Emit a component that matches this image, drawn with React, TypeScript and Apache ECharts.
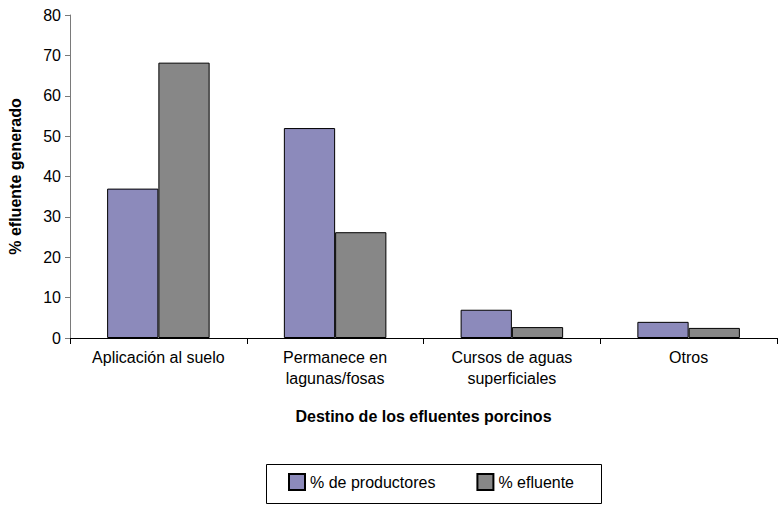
import React, { useEffect, useRef } from "react";
import * as echarts from "echarts";

const categories = [
  "Aplicación al suelo",
  "Permanece en\nlagunas/fosas",
  "Cursos de aguas\nsuperficiales",
  "Otros",
];
const productores = [37, 52, 7, 4];
const efluente = [68.2, 26.2, 2.7, 2.5];
const seriesNames = ["% de productores", "% efluente"];
const yTicks = { min: 0, max: 80, interval: 10 };

const FONT = "Liberation Sans, Arial, sans-serif";

export default function App() {
  const ref = useRef<HTMLDivElement>(null);
  useEffect(() => {
    if (!ref.current) return;
    const chart = echarts.init(ref.current, undefined, { renderer: "svg" });
    chart.setOption({
      animation: false,
      textStyle: { fontFamily: FONT },
      grid: {
        left: 70,
        right: 3,
        top: 15,
        bottom: 169,
        containLabel: false,
        outerBoundsMode: "none",
      },
      graphic: [
        {
          type: "rect",
          left: 264,
          top: 462,
          shape: { width: 335, height: 39 },
          style: { fill: "none", stroke: "#000", lineWidth: 1 },
          z: 0,
        },
      ],
      legend: {
        left: 288,
        top: 473,
        orient: "horizontal",
        data: seriesNames,
        itemWidth: 16,
        itemHeight: 16,
        itemGap: 41,
        padding: 0,
        icon: "rect",
        textStyle: { fontFamily: FONT, fontSize: 16, color: "#000" },
      },
      xAxis: {
        type: "category",
        data: categories,
        name: "Destino de los efluentes porcinos",
        nameLocation: "middle",
        nameGap: 70,
        nameTextStyle: { fontFamily: FONT, fontSize: 16, fontWeight: "bold", color: "#000" },
        axisLine: { lineStyle: { color: "#000", width: 1 } },
        axisTick: { show: true, alignWithLabel: false, length: 6, lineStyle: { color: "#000" } },
        axisLabel: { fontFamily: FONT, fontSize: 16, color: "#000", margin: 9, lineHeight: 21 },
      },
      yAxis: {
        type: "value",
        min: yTicks.min,
        max: yTicks.max,
        interval: yTicks.interval,
        name: "% efluente generado",
        nameLocation: "middle",
        nameGap: 47,
        nameTextStyle: { fontFamily: FONT, fontSize: 16, fontWeight: "bold", color: "#000" },
        axisLine: { show: true, lineStyle: { color: "#7a7a7a", width: 1 } },
        axisTick: { show: true, length: 5, lineStyle: { color: "#7a7a7a" } },
        axisLabel: { fontFamily: FONT, fontSize: 16, color: "#000", margin: 9 },
        splitLine: { show: false },
      },
      series: [
        {
          name: seriesNames[0],
          type: "bar",
          data: productores,
          barGap: "0%",
          barCategoryGap: "42%",
          itemStyle: { color: "#8c8abb", borderColor: "#000", borderWidth: 1 },
        },
        {
          name: seriesNames[1],
          type: "bar",
          data: efluente,
          barGap: "0%",
          barCategoryGap: "42%",
          itemStyle: { color: "#878787", borderColor: "#000", borderWidth: 1 },
        },
      ],
    });
    return () => chart.dispose();
  }, []);
  return (
    <div
      ref={ref}
      style={{ position: "absolute", left: 0, top: 0, width: 780, height: 507 }}
    />
  );
}
